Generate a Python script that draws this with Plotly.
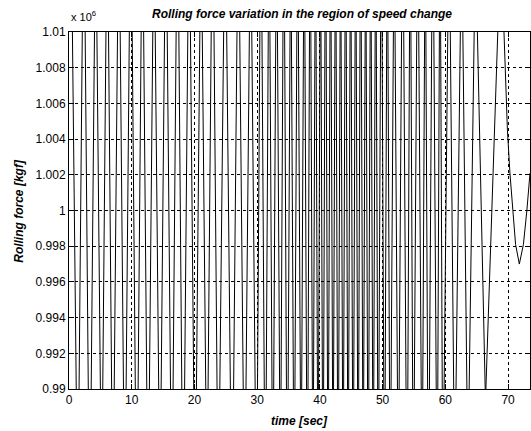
import plotly.graph_objects as go

# ---- data (force in units of 1e6 kgf) ----
trough_t = [1.4, 3.3, 5.2, 7.0, 8.9, 10.8, 12.6, 14.5, 16.4, 18.2, 20.1, 22.0, 23.8,
            26.0, 28.0, 29.9, 31.3, 32.5, 33.7, 34.8, 35.9, 37.0, 38.0, 38.9, 39.7,
            40.5, 41.3, 42.1, 42.9, 43.7, 44.5, 45.3, 46.1, 46.9, 47.7, 48.5, 49.3,
            50.3, 51.2, 52.5, 53.9, 54.9, 56.3, 57.3, 58.7, 59.6, 61.5, 63.6, 66.4]
trough_v = [0.982, 0.981, 0.983, 0.982, 0.982, 0.981, 0.982, 0.983, 0.982, 0.981,
            0.982, 0.983, 0.982, 0.981, 0.982, 0.982, 0.981, 0.982, 0.983, 0.981,
            0.982, 0.983, 0.981, 0.982, 0.982, 0.981, 0.982, 0.983, 0.981, 0.982,
            0.982, 0.981, 0.982, 0.983, 0.981, 0.982, 0.982, 0.981, 0.982, 0.983,
            0.981, 0.982, 0.983, 0.981, 0.982, 0.983, 0.984, 0.985, 0.9893]
peak_t = [0.3, 2.35, 4.25, 6.1, 7.95, 9.85, 11.7, 13.55, 15.45, 17.3, 19.15, 21.05, 22.9,
          24.9, 27.0, 28.95, 30.6, 31.9, 33.1, 34.25, 35.35, 36.45, 37.5, 38.45, 39.3,
          40.1, 40.9, 41.7, 42.5, 43.3, 44.1, 44.9, 45.7, 46.5, 47.3, 48.1, 48.9, 49.8,
          50.75, 51.85, 53.2, 54.4, 55.6, 56.8, 58.0, 59.15, 60.6, 62.6, 64.8, 68.6]
peak_v = [1.018, 1.019, 1.017, 1.018, 1.018, 1.019, 1.018, 1.017, 1.018, 1.019,
          1.018, 1.017, 1.019, 1.018, 1.018, 1.017, 1.019, 1.018, 1.018, 1.019,
          1.017, 1.018, 1.018, 1.019, 1.018, 1.017, 1.019, 1.018, 1.018, 1.017,
          1.019, 1.018, 1.018, 1.019, 1.017, 1.018, 1.018, 1.019, 1.018, 1.017,
          1.019, 1.018, 1.018, 1.017, 1.019, 1.018, 1.017, 1.016, 1.015, 1.0125]
tail_t = [69.35, 69.6, 69.9, 70.3, 70.8, 71.2, 71.8, 72.45, 73.0, 73.5]
tail_v = [1.0100, 1.0075, 1.0045, 1.0021, 1.0000, 0.9981, 0.9970, 0.9981, 1.0000, 1.0021]

start_t = [0.0]
start_v = [1.0100]

y_ticks = [0.99, 0.992, 0.994, 0.996, 0.998, 1.0, 1.002, 1.004, 1.006, 1.008, 1.01]
y_tick_text = ["0.99", "0.992", "0.994", "0.996", "0.998", "1", "1.002", "1.004",
               "1.006", "1.008", "1.01"]
x_ticks = [0, 10, 20, 30, 40, 50, 60, 70]

pts = sorted(zip(start_t + peak_t + trough_t + tail_t, start_v + peak_v + trough_v + tail_v))
t = [p[0] for p in pts]
v = [p[1] for p in pts]

fig = go.Figure()
fig.add_trace(go.Scatter(x=t, y=v, mode="lines",
                         line=dict(color="black", width=1), showlegend=False))

font_family = "Liberation Sans, Arial, sans-serif"
axis_common = dict(showline=True, linecolor="black", linewidth=1, mirror="ticks",
                   ticks="inside", ticklen=5, tickcolor="black",
                   showgrid=True, gridcolor="black", gridwidth=1, griddash="3px,3px",
                   zeroline=False, tickfont=dict(family=font_family, size=12, color="black"))

fig.update_layout(
    width=531, height=431,
    margin=dict(l=69, r=1, t=32, b=42),
    paper_bgcolor="white", plot_bgcolor="white",
    xaxis=dict(range=[0, 73.5], tickvals=x_ticks, **axis_common),
    yaxis=dict(range=[0.99, 1.01], tickvals=y_ticks, ticktext=y_tick_text, **axis_common),
    annotations=[
        dict(text="<b><i>Rolling force variation in the region of speed change</i></b>",
             xref="paper", yref="paper", x=0.505, y=1.0, yshift=18, showarrow=False,
             xanchor="center", yanchor="middle",
             font=dict(family=font_family, size=12, color="black")),
        dict(text="x 10<sup>6</sup>", xref="paper", yref="paper", x=0.0, y=1.0,
             xshift=0, yshift=16, showarrow=False, xanchor="left", yanchor="middle",
             font=dict(family=font_family, size=11, color="black")),
        dict(text="<b><i>Rolling force [kgf]</i></b>", xref="paper", yref="paper",
             x=-0.11, y=0.5, showarrow=False, textangle=-90, xanchor="center",
             yanchor="middle", font=dict(family=font_family, size=12, color="black")),
        dict(text="<b><i>time [sec]</i></b>", xref="paper", yref="paper",
             x=0.5, y=0.0, yshift=-32, showarrow=False, xanchor="center",
             yanchor="middle", font=dict(family=font_family, size=12, color="black")),
    ],
)

fig.write_html("out.html")
